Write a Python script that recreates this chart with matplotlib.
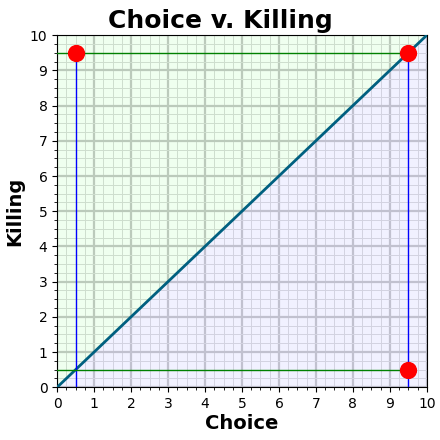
import matplotlib
matplotlib.use("Agg")
import matplotlib.pyplot as plt
import numpy as np
from matplotlib.ticker import MultipleLocator

diag_x = [0, 10]
diag_y = [0, 10]
pts_x = [0.5, 9.5, 9.5]
pts_y = [9.5, 9.5, 0.5]
vlines_x = [0.5, 9.5]
hlines_y = [9.5, 0.5]
lim = 9.5

fig, ax = plt.subplots(figsize=(4.4, 4.4), dpi=100)
fig.subplots_adjust(left=0.13, right=0.97, top=0.92, bottom=0.12)
ax.set_xlim(0, 10); ax.set_ylim(0, 10)
ax.xaxis.set_major_locator(MultipleLocator(1)); ax.yaxis.set_major_locator(MultipleLocator(1))
ax.xaxis.set_minor_locator(MultipleLocator(0.25)); ax.yaxis.set_minor_locator(MultipleLocator(0.25))
ax.grid(which='major', color='#a8a8a8', lw=1.6, zorder=0)
ax.grid(which='minor', color='#c8c8c8', lw=0.7, zorder=0)
ax.set_axisbelow(True)
ax.fill_between(diag_x, diag_y, 10, color='#d8ffd8', alpha=0.4, zorder=1, lw=0)
ax.fill_between(diag_x, 0, diag_y, color='#e0e0ff', alpha=0.45, zorder=1, lw=0)
ax.plot(diag_x, diag_y, color='#006080', lw=2, zorder=3)
for x in vlines_x:
    ax.plot([x, x], [0, lim], color='blue', lw=1, zorder=3)
for y in hlines_y:
    ax.plot([0, lim], [y, y], color='green', lw=1, zorder=3)
ax.scatter(pts_x, pts_y, s=130, color='red', zorder=4)
fig.text(0.5, 0.925, 'Choice v. Killing', fontsize=18, fontweight='bold', ha='center', va='bottom')
ax.set_xlabel('Choice', fontsize=14, fontweight='bold', labelpad=2)
ax.set_ylabel('Killing', fontsize=14, fontweight='bold', labelpad=4)
ax.tick_params(labelsize=10)
fig.savefig('out.png', dpi=100)
